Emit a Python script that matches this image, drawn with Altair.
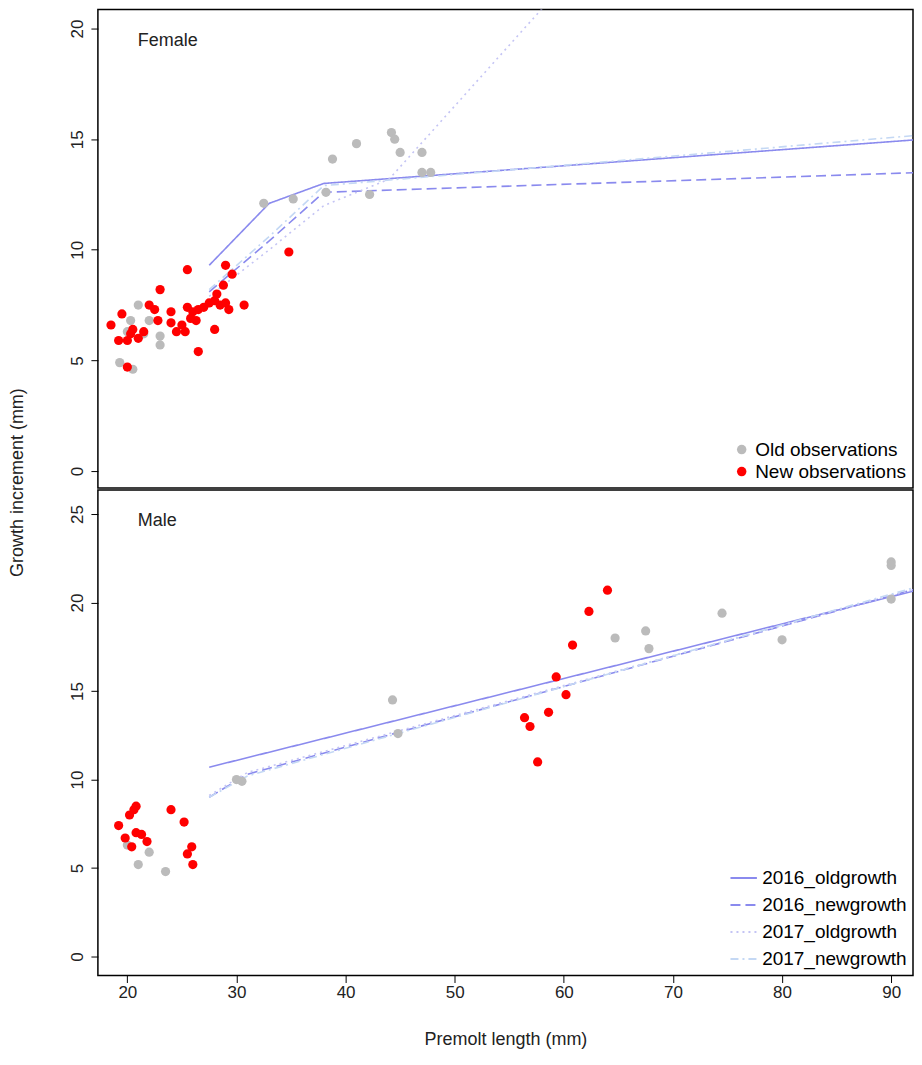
import altair as alt
import pandas as pd

# ---- female observations ----
f_old_x = [19.3, 20.5, 20.3, 21, 21.5, 22, 23, 23, 20, 32.5, 35.2, 38.2, 38.8, 41, 42.2, 44.2, 44.5, 45, 47, 47, 47.8]
f_old_y = [4.9, 4.6, 6.8, 7.5, 6.2, 6.8, 5.7, 6.1, 6.3, 12.1, 12.3, 12.6, 14.1, 14.8, 12.5, 15.3, 15.0, 14.4, 14.4, 13.5, 13.5]
f_new_x = [18.5, 19.2, 19.5, 20, 20, 20.3, 20.5, 21, 21.5, 22, 22.5, 22.8, 23, 24, 24, 24.5, 25, 25.3, 25.5,
           25.5, 25.8, 26, 26.3, 26.5, 26.5, 27, 27.5, 28, 28, 28.2, 28.5, 28.8, 29, 29, 29.3, 29.6, 30.7, 34.8]
f_new_y = [6.6, 5.9, 7.1, 4.7, 5.9, 6.2, 6.4, 6.0, 6.3, 7.5, 7.3, 6.8, 8.2, 7.2, 6.7, 6.3, 6.6, 6.3, 9.1,
           7.4, 6.9, 7.2, 6.8, 5.4, 7.3, 7.4, 7.6, 7.7, 6.4, 8.0, 7.5, 8.4, 9.3, 7.6, 7.3, 8.9, 7.5, 9.9]

# ---- male observations ----
m_old_x = [20, 21, 22, 23.5, 30, 30.5, 44.3, 44.8, 64.7, 67.5, 67.8, 74.5, 80, 90, 90, 90]
m_old_y = [6.3, 5.2, 5.9, 4.8, 10.0, 9.9, 14.5, 12.6, 18.0, 18.4, 17.4, 19.4, 17.9, 22.3, 22.1, 20.2]
m_new_x = [19.2, 19.8, 20.2, 20.4, 20.6, 20.8, 20.8, 21.3, 21.8, 24, 25.2, 25.5, 25.9, 26,
           56.4, 56.9, 57.6, 58.6, 59.3, 60.2, 60.8, 62.3, 64]
m_new_y = [7.4, 6.7, 8.0, 6.2, 8.3, 8.5, 7.0, 6.9, 6.5, 8.3, 7.6, 5.8, 6.2, 5.2,
           13.5, 13.0, 11.0, 13.8, 15.8, 14.8, 17.6, 19.5, 20.7]

# ---- growth curves ----
series = ["2016_oldgrowth", "2016_newgrowth", "2017_oldgrowth", "2017_newgrowth"]
f_curve_x = {
    "2016_oldgrowth": [27.5, 33, 38, 93],
    "2016_newgrowth": [27.5, 33, 38, 93],
    "2017_oldgrowth": [27.5, 33, 38, 44, 60],
    "2017_newgrowth": [27.5, 33, 38, 93],
}
f_curve_y = {
    "2016_oldgrowth": [9.3, 12.1, 13.0, 15.0],
    "2016_newgrowth": [8.1, 10.4, 12.6, 13.5],
    "2017_oldgrowth": [7.9, 10.0, 12.0, 13.2, 22.0],
    "2017_newgrowth": [8.2, 10.6, 12.9, 15.2],
}
m_curve_x = {
    "2016_oldgrowth": [27.5, 93],
    "2016_newgrowth": [27.5, 31, 93],
    "2017_oldgrowth": [27.5, 31, 93],
    "2017_newgrowth": [27.5, 31, 93],
}
m_curve_y = {
    "2016_oldgrowth": [10.7, 20.8],
    "2016_newgrowth": [9.0, 10.3, 20.9],
    "2017_oldgrowth": [9.1, 10.4, 20.9],
    "2017_newgrowth": [9.0, 10.2, 21.0],
}

obs_types = ["Old observations", "New observations"]


def pts(ox, oy, nx, ny):
    return pd.DataFrame({
        "x": ox + nx, "y": oy + ny,
        "type": [obs_types[0]] * len(ox) + [obs_types[1]] * len(nx)})


def curves(cx, cy):
    rows = []
    for s in series:
        for i, (a, b) in enumerate(zip(cx[s], cy[s])):
            rows.append({"x": a, "y": b, "series": s, "o": i})
    return pd.DataFrame(rows)


XD = [17.3, 92.0]
W = 816
fnt = "Liberation Sans"


def panel(p, c, ydom, yvals, label, h, show_x, pt_legend, line_legend):
    xax = alt.Axis(values=list(range(20, 100, 10)), title="Premolt length (mm)", grid=False,
                   tickColor="black", domain=False, labelFontSize=17, titleFontSize=18,
                   labelColor="#222", titleColor="#222", labelFont=fnt, titleFont=fnt,
                   titleFontWeight="normal", titlePadding=30) if show_x else None
    yargs = dict(values=yvals, grid=False, labelAngle=-90, labelAlign="center", labelBaseline="bottom",
                 tickColor="black", domain=False, labelFontSize=17, labelPadding=4,
                 labelColor="#222", labelFont=fnt)
    if label == "Male":
        yax = alt.Axis(title="Growth increment (mm)", titleY=-8, titleFontSize=18, titleFont=fnt,
                       titleColor="#222", titleFontWeight="normal", titlePadding=42, **yargs)
    else:
        yax = alt.Axis(title=None, **yargs)
    x = alt.X("x:Q", scale=alt.Scale(domain=XD, nice=False, zero=False), axis=xax)
    y = alt.Y("y:Q", scale=alt.Scale(domain=ydom, nice=False, zero=False), axis=yax)
    leg_pt = alt.Legend(orient="bottom-right", title=None, labelFontSize=19, labelFont=fnt,
                        symbolSize=90, fillColor="white", padding=2, offset=4) if pt_legend else None
    dots = alt.Chart(p).mark_circle(size=85, opacity=1).encode(
        x=x, y=y,
        fill=alt.Fill("type:N", scale=alt.Scale(domain=obs_types, range=["#bbbbbb", "#ff0000"]), legend=leg_pt),
        order=alt.Order("type:N", sort="descending"))
    leg_ln = alt.Legend(orient="bottom-right", title=None, labelFontSize=19, labelFont=fnt,
                        symbolType="stroke", symbolStrokeWidth=2, symbolSize=700,
                        padding=2, offset=4) if line_legend else None
    lines = alt.Chart(c).mark_line(strokeWidth=1.6, clip=True).encode(
        x=x, y=y, detail="series:N", order="o:Q",
        stroke=alt.Stroke("series:N", scale=alt.Scale(domain=series,
                          range=["#8a8aee", "#8a8aee", "#c4c4f4", "#c4d8f4"]), legend=leg_ln),
        strokeDash=alt.StrokeDash("series:N", scale=alt.Scale(domain=series,
                                  range=[[1, 0], [10, 5], [2, 4], [8, 4, 2, 4]]), legend=leg_ln))
    txt = alt.Chart(pd.DataFrame({"t": [label]})).mark_text(
        align="left", baseline="top", fontSize=18, font=fnt, color="#222").encode(
        x=alt.value(40), y=alt.value(22), text="t:N")
    return alt.layer(lines, dots, txt).properties(
        width=W, height=h, view=alt.ViewBackground(stroke="black", strokeWidth=1.5))


top = panel(pts(f_old_x, f_old_y, f_new_x, f_new_y), curves(f_curve_x, f_curve_y),
            [-0.77, 20.86], [0, 5, 10, 15, 20], "Female", 479, False, True, False)
bot = panel(pts(m_old_x, m_old_y, m_new_x, m_new_y), curves(m_curve_x, m_curve_y),
            [-1.07, 26.36], [0, 5, 10, 15, 20, 25], "Male", 486, True, False, True)

chart = alt.vconcat(top, bot, spacing=2, bounds="flush").resolve_scale(
    fill="independent", stroke="independent", strokeDash="independent").properties(
    padding={"left": 0, "top": 0, "right": 0, "bottom": 0}).configure(
    background="white").configure_axis(tickSize=7)

chart.save("out.html", embed_options={"renderer": "svg", "actions": False})
